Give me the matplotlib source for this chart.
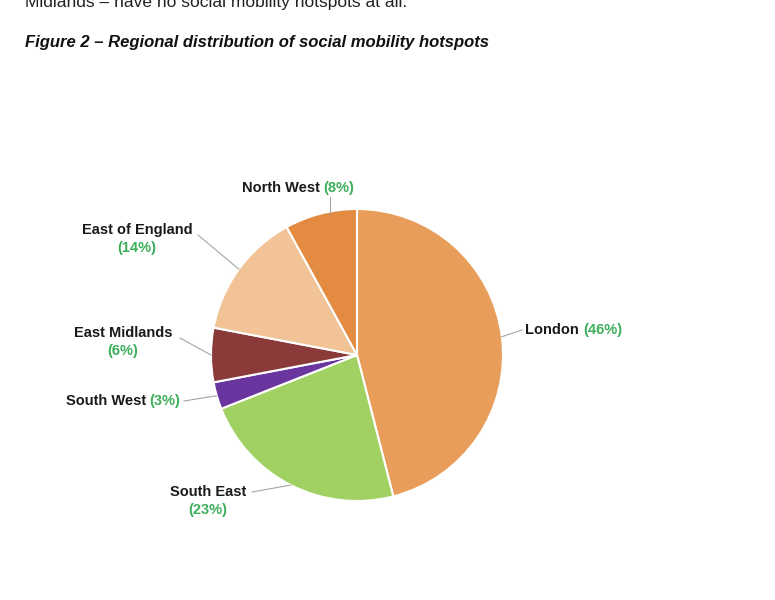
import numpy as np
import matplotlib.pyplot as plt

regions = ['London', 'South East', 'South West', 'East Midlands', 'East of England', 'North West']
shares = [46, 23, 3, 6, 14, 8]
colors = ['#E99D5A', '#A1D163', '#6B35A0', '#8B3A3A', '#F1C396', '#E38B40']

# label text anchor (pixels from top-left), alignment, two-line flag
label_pos = {
    'London': (525, 330, 'left', False),
    'South East': (208, 492, 'center', True),
    'South West': (146, 401, 'split', False),
    'East Midlands': (123, 333, 'center', True),
    'East of England': (137, 230, 'center', True),
    'North West': (320, 188, 'split', False),
}
line_start = {
    'London': (522, 330),
    'South East': (252, 492),
    'South West': (184, 401),
    'East Midlands': (180, 338),
    'East of England': (198, 235),
    'North West': (330, 197),
}

W, H = 775, 600
fig = plt.figure(figsize=(7.75, 6), dpi=100)
ax = fig.add_axes([0, 0, 1, 1])

cx, cy, r = 357, H - 355, 146
wedges, _ = ax.pie(shares, colors=colors, startangle=90, counterclock=False,
                   center=(cx, cy), radius=r, frame=True,
                   wedgeprops=dict(edgecolor='white', linewidth=1.5))
ax.set_xlim(0, W)
ax.set_ylim(0, H)
ax.set_aspect('equal')
ax.axis('off')

green = '#3DAE5A'
font = dict(fontsize=10.5, fontweight='bold', family='Liberation Sans', va='center')
for w, name, val in zip(wedges, regions, shares):
    mid = np.deg2rad((w.theta1 + w.theta2) / 2)
    ex, ey = cx + r * np.cos(mid), cy + r * np.sin(mid)
    sx, sy = line_start[name]
    if name == 'North West':
        ex = sx
        ey = cy + np.sqrt(r ** 2 - (sx - cx) ** 2) - 2
    ax.plot([sx, ex], [H - sy, ey], color='#A6A6A6', lw=0.8)
    tx, ty, ha, two = label_pos[name]
    if two:
        ax.text(tx, H - ty, name, ha=ha, color='#1a1a1a', **font)
        ax.text(tx, H - ty - 18, '(%d%%)' % val, ha=ha, color=green, **font)
    elif ha == 'left':
        t = ax.annotate(name + ' ', (tx, H - ty), ha='left', color='#1a1a1a', **font)
        ax.annotate('(%d%%)' % val, xycoords=t, xy=(1, 0.5), ha='left',
                    color=green, **font)
    else:
        ax.text(tx, H - ty, name, ha='right', color='#1a1a1a', **font)
        ax.text(tx + 3, H - ty, '(%d%%)' % val, ha='left', color=green, **font)

fig.text(25 / W, 1 - 2 / H, 'Midlands – have no social mobility hotspots at all.', ha='left',
         va='center', fontsize=12.5, color='#222222', family='Liberation Sans')
fig.text(25 / W, 1 - 42 / H, 'Figure 2 – Regional distribution of social mobility hotspots',
         ha='left', va='center', fontsize=12, fontweight='bold', style='italic',
         color='#111111', family='Liberation Sans')

fig.savefig('out.png', dpi=100)
